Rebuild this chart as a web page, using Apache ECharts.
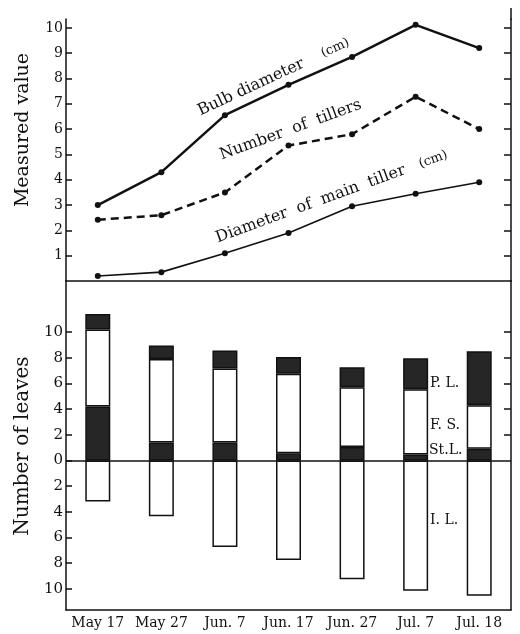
<!DOCTYPE html>
<html>
<head>
<meta charset="utf-8">
<script src="https://cdn.jsdelivr.net/npm/echarts@6/dist/echarts.min.js"></script>
<style>html,body{margin:0;padding:0;background:#fff}#c{width:520px;height:634px}</style>
</head>
<body>
<div id="c"></div>
<script>
var categories = ['May 17', 'May 27', 'Jun. 7', 'Jun. 17', 'Jun. 27', 'Jul. 7', 'Jul. 18'];
// top panel (measured values)
var bulbDiameter = [3.0, 4.3, 6.55, 7.75, 8.85, 10.12, 9.2];
var numberOfTillers = [2.42, 2.6, 3.5, 5.35, 5.8, 7.28, 6.0];
var mainTillerDiameter = [0.2, 0.35, 1.1, 1.9, 2.95, 3.45, 3.9];
// bottom panel (number of leaves, segment sizes)
var stL = [4.2, 1.4, 1.4, 0.55, 1.05, 0.45, 0.9];
var fS = [6.0, 6.5, 5.75, 6.2, 4.65, 5.1, 3.4];
var pL = [1.2, 1.05, 1.4, 1.3, 1.55, 2.4, 4.2];
var iL = [-3.2, -4.35, -6.75, -7.75, -9.25, -10.15, -10.55];
// tick labels
var topTicks = [1, 2, 3, 4, 5, 6, 7, 8, 9, 10];
var bottomTicks = [-10, -8, -6, -4, -2, 0, 2, 4, 6, 8, 10];
var bottomRightTicks = [2, 4, 6, 8, 10];

var FONT = '"DejaVu Serif", "Liberation Serif", serif';
var BLACK = '#111';
var DARK = '#262626';

var chart = echarts.init(document.getElementById('c'));
var lineAxis = { show: true, lineStyle: { color: BLACK, width: 1.5 } };

var option = {
  animation: false,
  backgroundColor: '#fff',
  grid: [
    { left: 66, right: 9, top: 19, height: 262 },
    { left: 66, right: 9, top: 281, bottom: 24 }
  ],
  xAxis: [
    { gridIndex: 0, type: 'category', data: categories, boundaryGap: true,
      axisLine: lineAxis, axisTick: { show: false }, axisLabel: { show: false }, splitLine: { show: false } },
    { gridIndex: 1, type: 'category', data: categories, boundaryGap: true,
      axisLine: { show: true, onZero: false, lineStyle: { color: BLACK, width: 1.5 } },
      axisTick: { show: false },
      axisLabel: { interval: 0, hideOverlap: false, color: BLACK, fontFamily: FONT, fontSize: 14, margin: 6 },
      splitLine: { show: false } }
  ],
  yAxis: [
    { gridIndex: 0, type: 'value', position: 'left', min: 0, max: 10.35,
      axisLine: lineAxis,
      axisTick: { show: true, inside: true, length: 6, customValues: topTicks, lineStyle: { color: BLACK, width: 1.5 } },
      axisLabel: { customValues: topTicks, color: BLACK, fontFamily: FONT, fontSize: 14, margin: 3 },
      splitLine: { show: false } },
    { gridIndex: 0, type: 'value', position: 'right', min: 0, max: 10.35,
      axisLine: lineAxis,
      axisTick: { show: true, inside: true, length: 7, customValues: topTicks, lineStyle: { color: BLACK, width: 1.5 } },
      axisLabel: { show: false }, splitLine: { show: false } },
    { gridIndex: 1, type: 'value', position: 'left', min: -11.65, max: 13.97,
      axisLine: lineAxis,
      axisTick: { show: true, inside: true, length: 6, customValues: bottomTicks, lineStyle: { color: BLACK, width: 1.5 } },
      axisLabel: { customValues: bottomTicks, color: BLACK, fontFamily: FONT, fontSize: 15, margin: 3,
        formatter: function (v) { return String(Math.abs(v)); } },
      splitLine: { show: false } },
    { gridIndex: 1, type: 'value', position: 'right', min: -11.65, max: 13.97,
      axisLine: lineAxis,
      axisTick: { show: true, inside: true, length: 7, customValues: bottomRightTicks, lineStyle: { color: BLACK, width: 1.5 } },
      axisLabel: { show: false }, splitLine: { show: false } }
  ],
  series: [
    { type: 'line', name: 'Bulb diameter', xAxisIndex: 0, yAxisIndex: 0, data: bulbDiameter,
      symbol: 'circle', symbolSize: 6, lineStyle: { color: BLACK, width: 2.5 }, itemStyle: { color: BLACK } },
    { type: 'line', name: 'Number of tillers', xAxisIndex: 0, yAxisIndex: 0, data: numberOfTillers,
      symbol: 'circle', symbolSize: 6, lineStyle: { color: BLACK, width: 2.5, type: [8, 5] }, itemStyle: { color: BLACK } },
    { type: 'line', name: 'Diameter of main tiller', xAxisIndex: 0, yAxisIndex: 0, data: mainTillerDiameter,
      symbol: 'circle', symbolSize: 6, lineStyle: { color: BLACK, width: 1.6 }, itemStyle: { color: BLACK } },
    { type: 'bar', name: 'St.L.', xAxisIndex: 1, yAxisIndex: 2, stack: 'leaves', data: stL, barWidth: 25,
      itemStyle: { color: DARK, borderColor: BLACK, borderWidth: 1.5 },
      markLine: { silent: true, symbol: 'none', label: { show: false },
        lineStyle: { color: BLACK, width: 1.5, type: 'solid' }, data: [{ yAxis: 0 }] } },
    { type: 'bar', name: 'F.S.', xAxisIndex: 1, yAxisIndex: 2, stack: 'leaves', data: fS, barWidth: 25,
      itemStyle: { color: '#fff', borderColor: BLACK, borderWidth: 1.5 } },
    { type: 'bar', name: 'P.L.', xAxisIndex: 1, yAxisIndex: 2, stack: 'leaves', data: pL, barWidth: 25,
      itemStyle: { color: DARK, borderColor: BLACK, borderWidth: 1.5 } },
    { type: 'bar', name: 'I.L.', xAxisIndex: 1, yAxisIndex: 2, stack: 'leaves', data: iL, barWidth: 25,
      itemStyle: { color: '#fff', borderColor: BLACK, borderWidth: 1.5 } }
  ],
  graphic: [
    { type: 'line', shape: { x1: 511, y1: 8, x2: 511, y2: 20 }, style: { stroke: BLACK, lineWidth: 1.5 } },
    { type: 'text', x: 23, y: 130, rotation: Math.PI / 2,
      style: { text: 'Measured value', fill: BLACK, font: '19px ' + FONT, textAlign: 'center', verticalAlign: 'middle' } },
    { type: 'text', x: 23, y: 446, rotation: Math.PI / 2,
      style: { text: 'Number of leaves', fill: BLACK, font: '20px ' + FONT, textAlign: 'center', verticalAlign: 'middle' } },
    { type: 'text', x: 202, y: 119, rotation: 25 * Math.PI / 180,
      style: { text: 'Bulb diameter    {s|(cm)}', fill: BLACK, font: '16px ' + FONT, textAlign: 'left', verticalAlign: 'bottom',
        rich: { s: { fontSize: 13, fontFamily: FONT, fill: BLACK } } } },
    { type: 'text', x: 223, y: 163, rotation: 20 * Math.PI / 180,
      style: { text: 'Number  of  tillers', fill: BLACK, font: '16px ' + FONT, textAlign: 'left', verticalAlign: 'bottom' } },
    { type: 'text', x: 219, y: 246, rotation: 20 * Math.PI / 180,
      style: { text: 'Diameter  of  main  tiller   {s|(cm)}', fill: BLACK, font: '16px ' + FONT, textAlign: 'left', verticalAlign: 'bottom',
        rich: { s: { fontSize: 13, fontFamily: FONT, fill: BLACK } } } },
    { type: 'text', x: 430, y: 383, style: { text: 'P. L.', fill: BLACK, font: '14px ' + FONT, textAlign: 'left', verticalAlign: 'middle' } },
    { type: 'text', x: 430, y: 425, style: { text: 'F. S.', fill: BLACK, font: '14px ' + FONT, textAlign: 'left', verticalAlign: 'middle' } },
    { type: 'text', x: 429, y: 450, style: { text: 'St.L.', fill: BLACK, font: '14px ' + FONT, textAlign: 'left', verticalAlign: 'middle' } },
    { type: 'text', x: 430, y: 520, style: { text: 'I. L.', fill: BLACK, font: '14px ' + FONT, textAlign: 'left', verticalAlign: 'middle' } }
  ]
};
chart.setOption(option);
</script>
</body>
</html>
